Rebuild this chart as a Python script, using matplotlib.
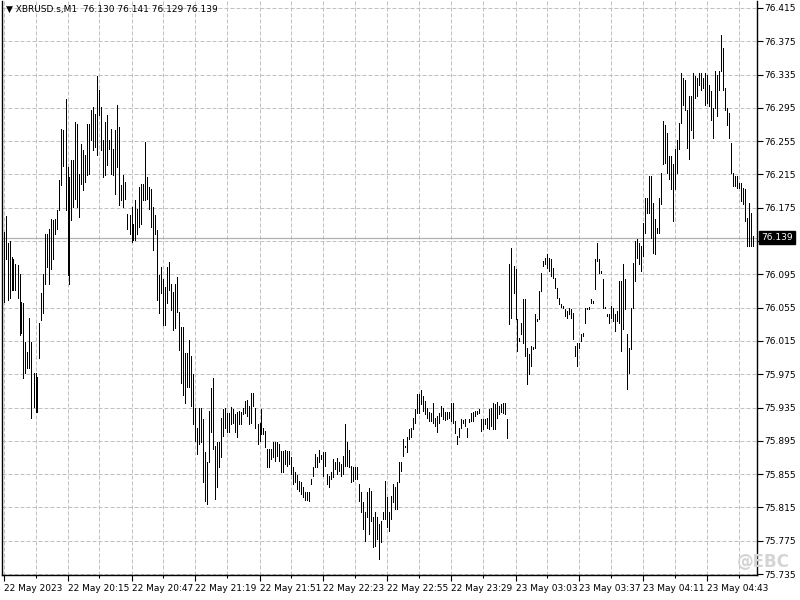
import numpy as np
import matplotlib
matplotlib.use('Agg')
import matplotlib.pyplot as plt
import matplotlib.transforms as mtransforms

# Bar highs / lows, in price units
highs1 = [76.146, 76.165, 76.133, 76.135, 76.116, 76.114, 76.108, 76.106, 76.096, 76.062,
          76.060, 76.014, 76.002, 76.042, 76.014, 75.976, 75.976, 75.972, 76.036, 76.072,
          76.096, 76.144, 76.144, 76.150, 76.162, 76.160, 76.162, 76.172, 76.208, 76.270,
          76.268, 76.306, 76.224, 76.212, 76.232, 76.232, 76.278, 76.276, 76.216, 76.252,
          76.244, 76.238, 76.276, 76.276, 76.292, 76.296, 76.288, 76.333, 76.316, 76.296,
          76.256, 76.278, 76.286, 76.256, 76.270, 76.246, 76.268, 76.298, 76.272, 76.202,
          76.214, 76.206, 76.168, 76.166, 76.176, 76.156, 76.184, 76.174, 76.200, 76.204,
          76.204, 76.254, 76.212, 76.200, 76.198, 76.176, 76.166, 76.148, 76.094, 76.104,
          76.090, 76.080, 76.104, 76.110, 76.084, 76.074, 76.084, 76.092, 76.050, 76.032,
          76.032, 76.000, 76.000, 76.016]
lows1 = [76.062, 76.114, 76.064, 76.066, 76.076, 76.076, 76.076, 76.066, 76.022, 76.024,
         75.970, 75.976, 75.982, 75.982, 75.923, 75.936, 75.930, 75.930, 75.994, 76.040,
         76.048, 76.084, 76.104, 76.084, 76.102, 76.114, 76.144, 76.150, 76.172, 76.202,
         76.225, 76.172, 76.094, 76.084, 76.160, 76.176, 76.186, 76.176, 76.164, 76.204,
         76.196, 76.206, 76.214, 76.216, 76.256, 76.244, 76.248, 76.238, 76.286, 76.244,
         76.212, 76.214, 76.226, 76.246, 76.216, 76.214, 76.192, 76.224, 76.178, 76.184,
         76.176, 76.186, 76.150, 76.144, 76.134, 76.136, 76.136, 76.144, 76.152, 76.156,
         76.184, 76.184, 76.186, 76.174, 76.152, 76.124, 76.144, 76.064, 76.048, 76.072,
         76.034, 76.034, 76.060, 76.076, 76.052, 76.028, 76.030, 76.050, 76.004, 75.964,
         75.950, 75.940, 75.960, 75.960]

highs2 = [75.997, 75.975, 75.935, 75.911, 75.935, 75.935, 75.921, 75.881, 75.869, 75.931,
          75.959, 75.970, 75.889, 75.893, 75.893, 75.923, 75.933, 75.935, 75.929, 75.929,
          75.936, 75.933, 75.927, 75.930, 75.931, 75.930, 75.935, 75.943, 75.944, 75.937,
          75.953, 75.952, 75.934, 75.915, 75.917, 75.933, 75.911, 75.907, 75.885, 75.885,
          75.885, 75.893, 75.893, 75.893, 75.891, 75.883, 75.883, 75.884, 75.883, 75.883,
          75.875, 75.863, 75.857, 75.854, 75.847, 75.845, 75.839, 75.834, 75.833, 75.834,
          75.849, 75.863, 75.879, 75.875, 75.884, 75.878, 75.882, 75.881, 75.855, 75.853,
          75.857, 75.873, 75.869, 75.874, 75.869, 75.867, 75.877, 75.915, 75.893, 75.884,
          75.865, 75.863, 75.864, 75.863, 75.843, 75.833, 75.821, 75.810, 75.833, 75.838,
          75.835, 75.803, 75.809, 75.803, 75.795, 75.799, 75.809, 75.847, 75.827, 75.809]
lows2 = [75.937, 75.915, 75.895, 75.879, 75.891, 75.893, 75.845, 75.823, 75.819, 75.869,
         75.905, 75.885, 75.825, 75.839, 75.863, 75.875, 75.901, 75.911, 75.905, 75.905,
         75.915, 75.917, 75.905, 75.899, 75.915, 75.915, 75.927, 75.929, 75.925, 75.915,
         75.917, 75.937, 75.911, 75.891, 75.895, 75.903, 75.903, 75.887, 75.863, 75.863,
         75.873, 75.875, 75.871, 75.877, 75.871, 75.857, 75.857, 75.867, 75.865, 75.867,
         75.855, 75.843, 75.845, 75.837, 75.835, 75.831, 75.827, 75.824, 75.824, 75.823,
         75.843, 75.853, 75.863, 75.864, 75.869, 75.873, 75.853, 75.865, 75.843, 75.839,
         75.849, 75.851, 75.861, 75.855, 75.859, 75.853, 75.855, 75.865, 75.865, 75.863,
         75.845, 75.847, 75.849, 75.849, 75.823, 75.809, 75.789, 75.775, 75.803, 75.783,
         75.799, 75.767, 75.769, 75.777, 75.753, 75.773, 75.801, 75.801, 75.791, 75.787]

highs3 = [75.829, 75.843, 75.839, 75.845, 75.869, 75.869, 75.897, 75.889, 75.899, 75.909,
          75.911, 75.923, 75.933, 75.951]
lows3 = [75.801, 75.821, 75.813, 75.813, 75.845, 75.859, 75.877, 75.887, 75.881, 75.897,
         75.899, 75.909, 75.917, 75.929]

highs4 = [75.951, 75.956, 75.949, 75.943, 75.935, 75.930, 75.929, 75.941, 75.923, 75.925,
          75.929, 75.937, 75.935, 75.930, 75.930, 75.930, 75.941, 75.941, 75.919, 75.901,
          75.911, 75.921, 75.920, 75.921, 75.911, 75.921, 75.928, 75.930, 75.931, 75.931,
          75.933, 75.921, 75.921, 75.921, 75.923, 75.933, 75.935, 75.941, 75.939, 75.942,
          75.937, 75.939, 75.941, 75.941, 75.921]
lows4 = [75.929, 75.939, 75.931, 75.927, 75.923, 75.919, 75.919, 75.917, 75.913, 75.905,
         75.917, 75.925, 75.921, 75.920, 75.921, 75.923, 75.919, 75.917, 75.904, 75.891,
         75.899, 75.911, 75.917, 75.913, 75.899, 75.918, 75.919, 75.919, 75.925, 75.927,
         75.929, 75.907, 75.909, 75.915, 75.911, 75.909, 75.913, 75.909, 75.909, 75.923,
         75.927, 75.930, 75.929, 75.927, 75.898]

highs5 = [76.107, 76.127, 76.105, 76.102, 76.041, 76.019, 76.037, 76.065, 76.065, 76.007,
          75.999, 76.009, 76.008, 76.047, 76.041, 76.075, 76.097, 76.111, 76.115, 76.119,
          76.115, 76.113, 76.103, 76.091, 76.079, 76.067, 76.059, 76.057, 76.053, 76.051,
          76.055, 76.053, 76.049, 76.009, 76.013, 76.013, 76.023, 76.025, 76.055, 76.055,
          76.056, 76.065, 76.063, 76.113, 76.133, 76.113, 76.099, 76.089, 76.056, 76.047,
          76.047, 76.057, 76.055, 76.047, 76.051, 76.087, 76.087, 76.107, 76.089, 76.023,
          76.007]
lows5 = [76.035, 76.043, 76.073, 76.041, 76.003, 76.015, 76.023, 76.013, 75.997, 75.963,
         75.975, 75.985, 76.005, 76.007, 76.039, 76.041, 76.075, 76.105, 76.107, 76.103,
         76.099, 76.093, 76.091, 76.079, 76.067, 76.059, 76.056, 76.055, 76.045, 76.043,
         76.047, 76.043, 76.017, 75.997, 75.985, 76.007, 76.015, 76.021, 76.037, 76.053,
         76.053, 76.061, 76.061, 76.077, 76.111, 76.097, 76.097, 76.055, 76.054, 76.045,
         76.037, 76.043, 76.039, 76.027, 76.039, 76.037, 76.003, 76.029, 76.053, 75.957,
         75.977]

highs6 = [76.055, 76.109, 76.135, 76.137, 76.133,
          76.129, 76.157, 76.187, 76.187, 76.213, 76.213, 76.181, 76.161, 76.151, 76.187,
          76.217, 76.279, 76.275, 76.265, 76.237, 76.237, 76.227, 76.245, 76.257, 76.277,
          76.337, 76.331, 76.329, 76.293, 76.309, 76.309, 76.337, 76.333, 76.331, 76.337,
          76.337, 76.331, 76.337, 76.335, 76.323, 76.315, 76.295, 76.339, 76.335, 76.339,
          76.383, 76.367, 76.319, 76.295, 76.289, 76.253, 76.217, 76.213, 76.213, 76.205,
          76.205, 76.199, 76.197, 76.163, 76.181, 76.169, 76.141]
lows6 = [76.005, 76.055, 76.087, 76.115, 76.107,
         76.099, 76.117, 76.145, 76.169, 76.169, 76.139, 76.121, 76.119, 76.145, 76.145,
         76.179, 76.227, 76.229, 76.217, 76.209, 76.197, 76.159, 76.197, 76.217, 76.245,
         76.277, 76.299, 76.293, 76.247, 76.233, 76.269, 76.259, 76.307, 76.309, 76.323,
         76.317, 76.319, 76.299, 76.301, 76.297, 76.281, 76.259, 76.295, 76.285, 76.317,
         76.339, 76.317, 76.293, 76.275, 76.259, 76.217, 76.201, 76.201, 76.199, 76.199,
         76.183, 76.179, 76.159, 76.129, 76.129, 76.129, 76.129]

time_labels = ['22 May 2023', '22 May 20:15', '22 May 20:47', '22 May 21:19', '22 May 21:51',
               '22 May 22:23', '22 May 22:55', '22 May 23:29', '23 May 03:03', '23 May 03:37',
               '23 May 04:11', '23 May 04:43']
price_ticks = [75.735, 75.775, 75.815, 75.855, 75.895, 75.935, 75.975, 76.015, 76.055,
               76.095, 76.135, 76.175, 76.215, 76.255, 76.295, 76.335, 76.375, 76.415]
last_price = 76.139
header = 'XBRUSD.s,M1  76.130 76.141 76.129 76.139'

highs = highs1 + highs2 + highs3 + highs4 + highs5 + highs6
lows = lows1 + lows2 + lows3 + lows4 + lows5 + lows6
x = np.arange(len(highs))

fig = plt.figure(figsize=(8, 6), dpi=100)
ax = fig.add_axes([2 / 800, 25 / 600, 755 / 800, 574 / 600])

ax.vlines(x, lows, highs, colors='black', linewidth=0.72, antialiased=False, zorder=3)

ax.set_xlim(-0.75, 376.75)
ax.set_ylim(75.7338, 76.4234)

# price axis on the right; the 76.135 label sits under the last-price box
ax.yaxis.tick_right()
ax.set_yticks(price_ticks)
ax.set_yticklabels(['' if abs(p - 76.135) < 1e-6 else f'{p:.3f}' for p in price_ticks])
ax.tick_params(axis='y', length=4, width=0.8, pad=1.5, labelsize=6.5, colors='black')

# time axis
ax.set_xticks(np.arange(0, 32 * len(time_labels), 32))
ax.set_xticklabels(time_labels, ha='left')
ax.set_xticks(np.arange(16, 377, 32), minor=True)
ax.tick_params(axis='x', which='major', length=4, width=0.8, pad=2.5, labelsize=6.5)
ax.tick_params(axis='x', which='minor', length=2, width=0.8)

ax.grid(True, which='both', axis='x', color='#c0c0c0', linestyle=(0, (4, 2)), linewidth=0.72)
ax.grid(True, which='major', axis='y', color='#c0c0c0', linestyle=(0, (4, 2)), linewidth=0.72)
ax.set_axisbelow(True)

ax.spines['top'].set_visible(False)
for s in ['left', 'right', 'bottom']:
    ax.spines[s].set_linewidth(1.0)
    ax.spines[s].set_color('black')

# last price line and label
ax.axhline(last_price, color='#b0b0b0', linewidth=0.9, zorder=2)
trans = mtransforms.blended_transform_factory(ax.transAxes, ax.transData)
ax.text(1.006, last_price, f'{last_price:.3f}', transform=trans, ha='left', va='center',
        fontsize=6.5, color='white', zorder=5,
        bbox=dict(boxstyle='square,pad=0.25', facecolor='black', edgecolor='black'))

fig.text(6 / 800, 1 - 9 / 600, '\u25bc ' + header, ha='left', va='center', fontsize=6.5)
fig.text(790 / 800, 1 - 562 / 600, '@EBC', ha='right', va='center', fontsize=12,
         color='#d4d4d4', fontweight='bold')

fig.savefig('out.png', dpi=100)
